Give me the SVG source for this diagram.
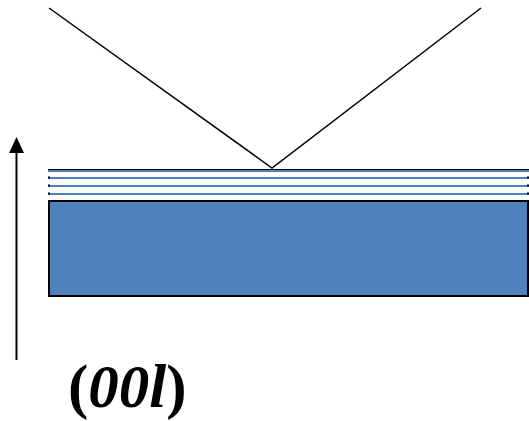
<svg xmlns="http://www.w3.org/2000/svg" width="529" height="421" viewBox="0 0 529 421">
<style>
.ln{stroke:#000;stroke-width:1.5;fill:none}
.layer{stroke:#4F81BD;stroke-width:2}
.lbl{font-family:"Liberation Serif","Times New Roman",serif;font-weight:bold;font-size:61px;fill:#000}
</style>
<g id="substrate">
<rect x="49" y="201" width="479" height="95" fill="#4F81BD" stroke="#000" stroke-width="2"/>
</g>
<g id="layers">
<line x1="48" y1="169.5" x2="529" y2="169.5" stroke="#000" stroke-width="1"/>
<line class="layer" x1="48" y1="171" x2="529" y2="171"/>
<line class="layer" x1="48" y1="178" x2="529" y2="178"/>
<line class="layer" x1="48" y1="186" x2="529" y2="186"/>
<line class="layer" x1="48" y1="194" x2="529" y2="194"/>
<rect x="48" y="176.5" width="2" height="2" fill="#000"/>
<rect x="48" y="184.5" width="2" height="2" fill="#000"/>
<rect x="48" y="192.5" width="2" height="2" fill="#000"/>
<rect x="527" y="176.5" width="2" height="2" fill="#000"/>
<rect x="527" y="184.5" width="2" height="2" fill="#000"/>
<rect x="527" y="192.5" width="2" height="2" fill="#000"/>
</g>
<g id="connectors">
<polyline class="ln" points="49,8 272,168 481,8"/>
<line x1="16.5" y1="360" x2="16.5" y2="150" stroke="#000" stroke-width="2"/>
<polygon points="16.5,137 24,153 9,153" fill="#000"/>
</g>
<g id="label">
<text class="lbl" x="68" y="407">(<tspan font-style="italic">00l</tspan>)</text>
</g>
</svg>
